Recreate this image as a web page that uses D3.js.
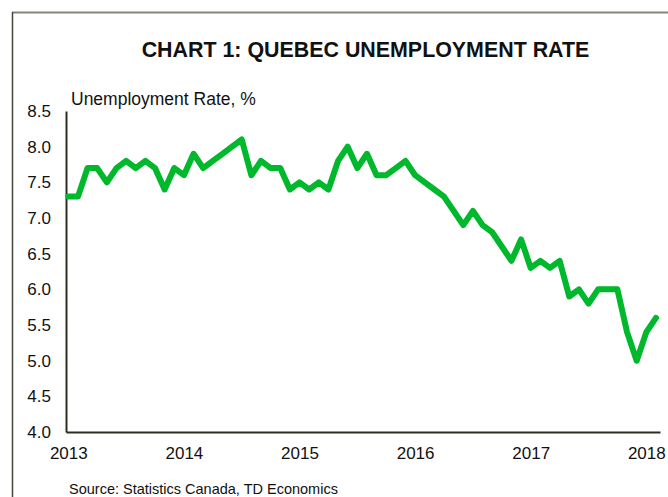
<!DOCTYPE html>
<html>
<head>
<meta charset="utf-8">
<script src="https://cdn.jsdelivr.net/npm/d3@7"></script>
<style>
  body { margin: 0; background: #fff; }
  text { font-family: "Liberation Sans", Arial, sans-serif; fill: #111; }
</style>
</head>
<body>
<div id="main-svg"></div>
<script>
// monthly, Jan 2013 .. Feb 2018
var years = [2013, 2014, 2015, 2016, 2017, 2018];
var rates = [
  7.3, 7.3, 7.7, 7.7, 7.5, 7.7, 7.8, 7.7, 7.8, 7.7, 7.4, 7.7,
  7.6, 7.9, 7.7, 7.8, 7.9, 8.0, 8.1, 7.6, 7.8, 7.7, 7.7, 7.4,
  7.5, 7.4, 7.5, 7.4, 7.8, 8.0, 7.7, 7.9, 7.6, 7.6, 7.7, 7.8,
  7.6, 7.5, 7.4, 7.3, 7.1, 6.9, 7.1, 6.9, 6.8, 6.6, 6.4, 6.7,
  6.3, 6.4, 6.3, 6.4, 5.9, 6.0, 5.8, 6.0, 6.0, 6.0, 5.4, 5.0,
  5.4, 5.6
];
var yTicks = [4.0, 4.5, 5.0, 5.5, 6.0, 6.5, 7.0, 7.5, 8.0, 8.5];

var width = 668;
var height = 497;

var svg = d3.select("#main-svg").append("svg")
  .attr("width", width)
  .attr("height", height);

// frame (only top and left edges show in the crop)
svg.append("line")
  .attr("x1", 12).attr("x2", width).attr("y1", 12.5).attr("y2", 12.5)
  .attr("stroke", "#85857c").attr("stroke-width", 2);
svg.append("line")
  .attr("x1", 12.5).attr("x2", 12.5).attr("y1", 12).attr("y2", height)
  .attr("stroke", "#45453a").attr("stroke-width", 1.5);

svg.append("text")
  .attr("x", 365.5)
  .attr("y", 57)
  .style("text-anchor", "middle")
  .style("font-weight", "bold")
  .style("font-size", "21.4px")
  .text("CHART 1: QUEBEC UNEMPLOYMENT RATE");

svg.append("text")
  .attr("x", 71)
  .attr("y", 105)
  .style("font-size", "17.5px")
  .text("Unemployment Rate, %");

svg.append("text")
  .attr("x", 69)
  .attr("y", 494)
  .style("font-size", "14.5px")
  .text("Source: Statistics Canada, TD Economics");

let x = d3.scaleLinear()
  .domain([-0.24, 61.42])
  .range([66, 660]);

let y = d3.scaleLinear()
  .domain([4, 8.5])
  .range([432, 111]);

let xAxis = d3.axisBottom(x)
  .tickValues(years.map((d, i) => i * 12))
  .tickFormat((d, i) => years[i])
  .tickSize(0)
  .tickPadding(15);

let yAxis = d3.axisLeft(y)
  .tickValues(yTicks)
  .tickFormat(d3.format('.1f'))
  .tickSize(0)
  .tickPadding(15);

let gx = svg.append('g')
  .attr('transform', 'translate(0,432)')
  .call(xAxis);

let gy = svg.append('g')
  .attr('transform', 'translate(66,0)')
  .call(yAxis);

[gx, gy].forEach(g => {
  g.select('.domain').attr('stroke', '#2e2e20').attr('stroke-width', 2);
  g.selectAll('text')
    .style('font-size', '17px')
    .style('font-family', '"Liberation Sans", Arial, sans-serif')
    .attr('fill', '#111');
});

let line = d3.line()
  .x((d, i) => x(i))
  .y(d => y(d));

svg.append('path')
  .datum(rates)
  .attr('fill', 'none')
  .attr('stroke', '#00b82b')
  .attr('stroke-width', 6)
  .attr('stroke-linejoin', 'round')
  .attr('stroke-linecap', 'round')
  .attr('d', line);
</script>
</body>
</html>
